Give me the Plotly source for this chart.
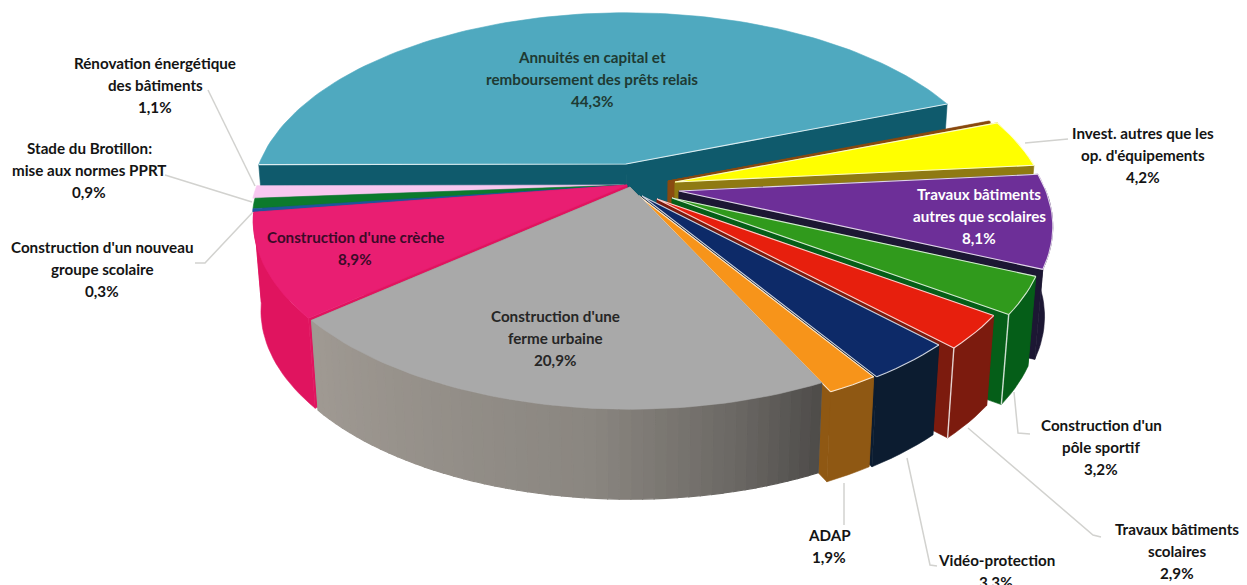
import math
import plotly.graph_objects as go

# Budget shares in percent, clockwise from the left edge of the top slice
slice_names = ["Annuités", "Autres", "Invest.", "Bât. autres", "Pôle sportif", "Bât. scolaires",
               "Vidéo", "ADAP", "Ferme", "Crèche", "Groupe scolaire", "Brotillon", "Rénovation"]
values = [44.3, 0.1, 4.2, 8.1, 3.2, 2.9, 3.3, 1.9, 20.9, 8.9, 0.3, 0.9, 1.1]
top_colors = ["#4fa9bf", "#8a4a10", "#ffff00", "#6d2f98", "#309a1c", "#e71f0d", "#0d2a68", "#f7941a",
              "#a9a9a9", "#e91e72", "#1f559c", "#0c7a2c", "#f8c8f0"]
wall_colors = ["#0f5a6c", "#8a4a10", "#8f7a12", "#1c1733", "#055e18", "#7c1b0e", "#0c1c30", "#8f5813",
               "#8f8a84", "#e0145f", "#1f559c", "#0c7a2c", "#f8c8f0"]

# Per-slice apex shift from the pie centre (the explosion of each wedge)
explode = [(-14, -26), (28, -9), (35, -8), (39, 1), (32, 8), (17, 9), (2, 6), (-1, 6),
           (-10, -3), (-13, -5), (-14, -5), (-14, -5), (-16, -5)]
edged = [True, False, True, True, True, True, True, True, False, False, False, False, False]
# The three thinnest wedges show only their top surface
flat = {10, 11, 12}

# Projection of the tilted disc
CX, CY = 640, 190
RX, RY, PERSP = 367, 180, 0.19
DEPTH, TAPER = 90, 0.98
START = 179.8


def rim(slice_no, deg):
    t = math.radians(deg)
    u, v = math.cos(t), math.sin(t)
    w = 1 - PERSP * v
    return (CX + explode[slice_no][0] + RX * u / w, CY + explode[slice_no][1] + RY * v / w)


def apex(slice_no):
    return (CX + explode[slice_no][0], CY + explode[slice_no][1])


def drop(p):
    return (CX + (p[0] - CX) * TAPER, p[1] + DEPTH)


fig = go.Figure()


def poly(points, color, seam=0.6):
    xs = [p[0] for p in points] + [points[0][0]]
    ys = [p[1] for p in points] + [points[0][1]]
    fig.add_trace(go.Scatter(x=xs, y=ys, mode="lines", fill="toself", fillcolor=color,
                             line=dict(color=color, width=seam), hoverinfo="skip", showlegend=False))


def stroke(points, color="rgba(255,255,255,0.8)", width=1.1):
    fig.add_trace(go.Scatter(x=[p[0] for p in points], y=[p[1] for p in points], mode="lines",
                             line=dict(color=color, width=width), hoverinfo="skip", showlegend=False))


def mix(a, b, f):
    return "rgb(%d,%d,%d)" % tuple(round(a[k] + (b[k] - a[k]) * f) for k in range(3))


# The ferme urbaine wall darkens towards the right where it meets ADAP
FERME_SHADE = [(64, (76, 74, 72)), (76, (106, 103, 99)), (95, (138, 134, 128)), (140, (160, 154, 147))]


def ferme_shade(deg):
    deg %= 360
    for (d0, c0), (d1, c1) in zip(FERME_SHADE, FERME_SHADE[1:]):
        if deg <= d1:
            return mix(c0, c1, max(0, (deg - d0) / (d1 - d0)))
    return mix(FERME_SHADE[-1][1], FERME_SHADE[-1][1], 0)


# Wedge limits in degrees, taken from the cumulated shares
total = sum(values)
limits = []
a = START
for val in values:
    limits.append((a, a + val / total * 360))
    a += val / total * 360

# Painter's order: back wedges first, the ferme urbaine last
order = [0, 1, 2, 3, 4, 5, 6, 7, 12, 11, 10, 9, 8]
for i in order:
    a0, a1 = limits[i]
    steps = max(2, int((a1 - a0) / 1.5))
    degs = [a0 + (a1 - a0) * k / steps for k in range(steps + 1)]
    top = [rim(i, d) for d in degs]
    tip = apex(i)

    if i not in flat:
        # Radial cut faces
        for end in (top[0], top[-1]):
            poly([tip, end, drop(end), drop(tip)], wall_colors[i])

        # Outer wall, only where it faces the viewer
        shown = [d for d in degs if math.sin(math.radians(d)) > -0.02]
        if len(shown) > 1:
            if i == 8:
                for d0, d1 in zip(shown, shown[1:]):
                    p0, p1 = rim(i, d0), rim(i, d1)
                    poly([p0, p1, drop(p1), drop(p0)], ferme_shade((d0 + d1) / 2), seam=1.2)
            else:
                upper = [rim(i, d) for d in shown]
                poly(upper + [drop(p) for p in reversed(upper)], wall_colors[i])

    # Top surface
    poly([tip] + top, top_colors[i])

    if edged[i]:
        stroke([top[-1], tip, top[0]])
        if i > 0:
            stroke(top)
        if i in (4, 5):
            stroke([top[-1], drop(top[-1])], width=1.4)

# Leader lines from the labels to their wedges
leaders = [
    [(208, 90), (255, 186)],
    [(165, 175), (252, 202)],
    [(195, 263), (205, 263), (253, 212)],
    [(1025, 143), (1068, 139)],
    [(1014, 392), (1018, 433), (1030, 434)],
    [(968, 428), (1093, 535), (1101, 537)],
    [(907, 458), (930, 565), (937, 566)],
    [(844, 483), (844, 525)],
]
for line in leaders:
    stroke(line, color="#d2d2cf", width=1.5)


def pct(v):
    return f"{v:.1f}%".replace(".", ",")


# Wedge index, text lines, centre x, first line row, text colour
labels = [
    (0, ["Annuités en capital et", "remboursement des prêts relais"], 592, 57, "#1e3a33"),
    (2, ["Invest. autres que les", "op. d'équipements"], 1143, 133, "#141414"),
    (3, ["Travaux bâtiments", "autres que scolaires"], 979, 194, "#ffffff"),
    (4, ["Construction d'un", "pôle sportif"], 1101, 425, "#141414"),
    (5, ["Travaux bâtiments", "scolaires"], 1177, 529, "#141414"),
    (6, ["Vidéo-protection"], 996, 560, "#141414"),
    (7, ["ADAP"], 829, 535, "#141414"),
    (8, ["Construction d'une", "ferme urbaine"], 555, 316, "#262626"),
    (9, ["Construction d'une crèche"], 355, 237, "#3c0a28"),
    (10, ["Construction d'un nouveau", "groupe scolaire"], 102, 247, "#141414"),
    (11, ["Stade du Brotillon:", "mise aux normes PPRT"], 89, 148, "#141414"),
    (12, ["Rénovation énergétique", "des bâtiments"], 155, 63, "#141414"),
]
LINE_STEP = 22
annotations = []
for idx, lines, x, y, color in labels:
    for row, text in enumerate(lines + [pct(values[idx])]):
        annotations.append(dict(x=x, y=y + row * LINE_STEP, xref="x", yref="y", text=text, showarrow=False,
                                xanchor="center", yanchor="middle",
                                font=dict(family="Lato", size=15.2, color=color, weight=700)))

fig.update_layout(
    width=1247, height=585, margin=dict(l=0, r=0, t=0, b=0),
    paper_bgcolor="white", plot_bgcolor="white", showlegend=False, annotations=annotations,
    xaxis=dict(range=[0, 1247], visible=False, fixedrange=True),
    yaxis=dict(range=[585, 0], visible=False, fixedrange=True),
)
fig.write_html("out.html", config={"displayModeBar": False})
